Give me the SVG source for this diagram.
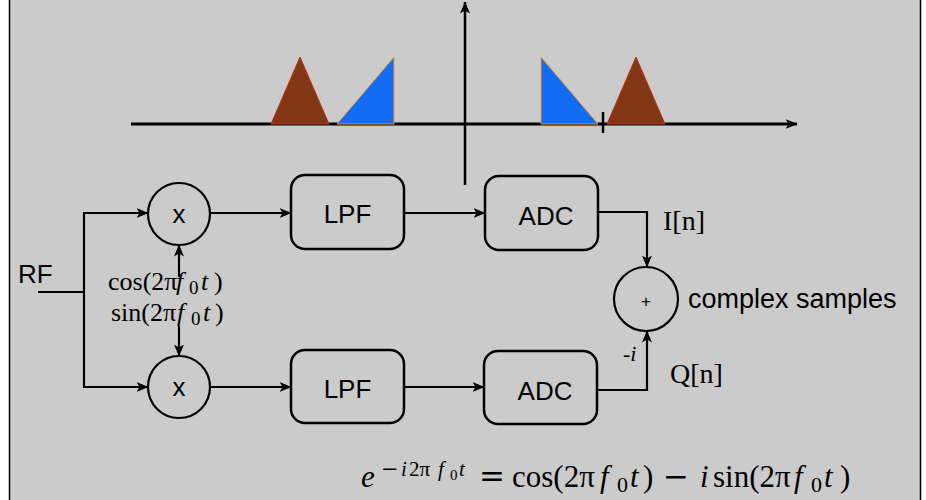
<svg xmlns="http://www.w3.org/2000/svg" width="926" height="500" viewBox="0 0 926 500">
<defs>
<marker id="arr" viewBox="0 0 12 10" refX="11.5" refY="5" markerWidth="12" markerHeight="10" markerUnits="userSpaceOnUse" orient="auto">
<path d="M0,0 L12,5 L0,10 L3,5 Z" fill="#000"/>
</marker>
<style>
.sans{font-family:"Liberation Sans",Arial,sans-serif;fill:#000}
.ser{font-family:"Liberation Serif","Times New Roman",serif;fill:#000}
.it{font-style:italic}
.op{font-family:"DejaVu Serif",serif}
.box{fill:none;stroke:#000;stroke-width:2.5}
.circ{fill:none;stroke:#000;stroke-width:2.2}
.con{fill:none;stroke:#000;stroke-width:2.2;marker-end:url(#arr)}
.line{fill:none;stroke:#000;stroke-width:2.2}
.brown{fill:#833714;stroke:#b8321e;stroke-width:1}
.blue{fill:#126cf6;stroke:#f39c33;stroke-width:1}
</style>
</defs>
<rect x="0" y="0" width="926" height="500" fill="#fff"/>
<rect x="9.5" y="-2" width="911" height="504" fill="#cbcbcb" stroke="#000" stroke-width="1.5"/>

<g id="spectrum">
<line x1="131" y1="124" x2="797" y2="124" stroke="#000" stroke-width="3" marker-end="url(#arr)"/>
<line x1="465" y1="185" x2="465" y2="2" stroke="#000" stroke-width="2.5" marker-end="url(#arr)"/>
<line x1="603" y1="112" x2="603" y2="133" stroke="#000" stroke-width="2.5"/>
<polygon class="brown" points="271,124 300,57 329,124"/>
<polygon class="blue" points="337,124 394,57 394,124"/>
<polygon class="blue" points="541,57 541,124 598,124"/>
<polygon class="brown" points="607,124 636,57 665,124"/>
</g>

<g id="connectors">
<path class="line" d="M38 292 H84"/>
<path class="con" d="M84 292 V213 H148"/>
<path class="con" d="M84 292 V387 H148"/>
<path class="con" d="M179 277 V245"/>
<path class="con" d="M179 326 V356"/>
<path class="con" d="M211 213 H291"/>
<path class="con" d="M211 387 H291"/>
<path class="con" d="M404 213 H485"/>
<path class="con" d="M404 387 H484"/>
<path class="con" d="M598 212 H647 V267"/>
<path class="con" d="M597 390 H647 V331"/>
</g>

<g id="rf"><text class="sans" x="18" y="283" font-size="26">RF</text></g>

<g id="mixer-top">
<circle class="circ" cx="179" cy="214" r="31"/>
<text class="sans" x="179" y="223" font-size="26" text-anchor="middle">x</text>
</g>
<g id="mixer-bottom">
<circle class="circ" cx="179" cy="387" r="31"/>
<text class="sans" x="179" y="396" font-size="26" text-anchor="middle">x</text>
</g>

<g id="lo-labels">
<text class="ser" y="290" font-size="26"><tspan x="108">cos(2π</tspan><tspan x="176" class="it">f</tspan><tspan x="189" y="294" font-size="19">0</tspan><tspan x="201" y="290" class="it">t</tspan><tspan x="214">)</tspan></text>
<text class="ser" y="321" font-size="26"><tspan x="111">sin(2π</tspan><tspan x="177" class="it">f</tspan><tspan x="191" y="325" font-size="19">0</tspan><tspan x="203" y="321" class="it">t</tspan><tspan x="215">)</tspan></text>
</g>

<g id="lpf-top">
<rect class="box" x="291" y="175" width="113" height="74" rx="14"/>
<text class="sans" x="347.5" y="223" font-size="26" text-anchor="middle">LPF</text>
</g>
<g id="lpf-bottom">
<rect class="box" x="291" y="350" width="113" height="73" rx="14"/>
<text class="sans" x="347.5" y="398" font-size="26" text-anchor="middle">LPF</text>
</g>
<g id="adc-top">
<rect class="box" x="485" y="176" width="113" height="74" rx="14"/>
<text class="sans" x="546" y="225" font-size="26" text-anchor="middle">ADC</text>
</g>
<g id="adc-bottom">
<rect class="box" x="484" y="351" width="113" height="73" rx="14"/>
<text class="sans" x="545" y="400" font-size="26" text-anchor="middle">ADC</text>
</g>

<g id="sum">
<circle class="circ" cx="646" cy="299" r="32"/>
<text class="sans" x="646" y="307" font-size="17" text-anchor="middle">+</text>
</g>

<g id="labels">
<text class="ser" x="663" y="230" font-size="28">I[n]</text>
<text class="ser" x="670" y="383" font-size="28">Q[n]</text>
<text class="ser" x="623" y="361" font-size="22">-<tspan class="it">i</tspan></text>
<text class="sans" x="688" y="308" font-size="27">complex samples</text>
</g>

<g id="formula">
<text class="ser it" x="361" y="487" font-size="31">e</text>
<text class="ser" y="476" font-size="21"><tspan class="op" x="381">−</tspan><tspan class="it" x="401">i</tspan><tspan x="409">2π</tspan><tspan class="it" x="438">f</tspan><tspan x="450" y="480" font-size="15">0</tspan><tspan class="it" x="459" y="476">t</tspan></text>
<text class="ser" y="487" font-size="31"><tspan class="op" x="479">=</tspan><tspan x="512">cos(2π</tspan><tspan class="it" x="600">f</tspan><tspan x="617" y="492" font-size="22">0</tspan><tspan class="it" x="630" y="487">t</tspan><tspan x="643">)</tspan><tspan class="op" x="663">−</tspan><tspan class="it" x="700">i</tspan><tspan x="713">sin(2π</tspan><tspan class="it" x="794">f</tspan><tspan x="811" y="492" font-size="22">0</tspan><tspan class="it" x="824" y="487">t</tspan><tspan x="840">)</tspan></text>
</g>
</svg>
